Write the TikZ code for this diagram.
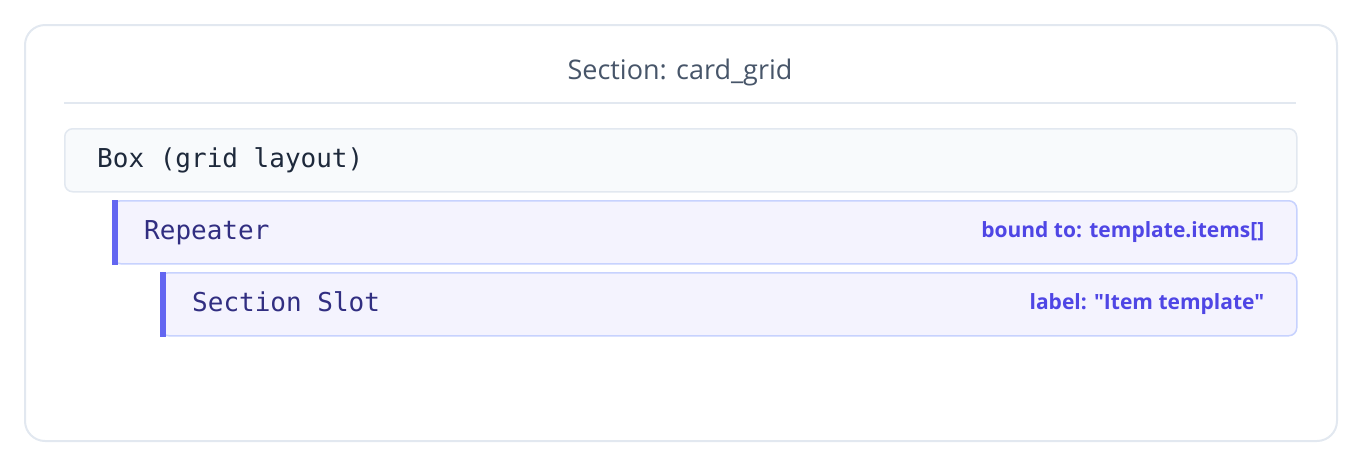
\documentclass[tikz,border=0pt]{standalone}
\usepackage{fontspec}
\setmainfont{Open Sans}
\newfontfamily\monofont{DejaVu Sans Mono}
\newfontfamily\tagfont{Open Sans}
\usetikzlibrary{positioning}
\definecolor{cardline}{HTML}{E2E8F0}
\definecolor{titlegray}{HTML}{475569}
\definecolor{boxfill}{HTML}{F8FAFC}
\definecolor{boxtext}{HTML}{1E293B}
\definecolor{slotfill}{HTML}{F4F3FE}
\definecolor{slotline}{HTML}{C7D2FE}
\definecolor{accent}{HTML}{6366F1}
\definecolor{slottext}{HTML}{312E81}
\definecolor{labeltext}{HTML}{4F46E5}
\tikzstyle{card} = [draw=cardline, fill=white, line width=2pt, rounded corners=20pt, anchor=north west,
    minimum width=1312pt, minimum height=416pt, inner sep=0pt]
\tikzstyle{block} = [draw=cardline, fill=boxfill, line width=1.5pt, rounded corners=8pt, anchor=north west,
    minimum height=63pt, inner sep=0pt]
\tikzstyle{slot} = [block, draw=slotline, fill=slotfill]
\tikzstyle{mono} = [font=\monofont\fontsize{26}{30}\selectfont, inner sep=0pt, text height=19pt, text depth=5pt]
\tikzstyle{tag} = [font=\tagfont\fontsize{21}{25}\selectfont\bfseries, text=labeltext, inner sep=0pt]

\begin{document}
\begin{tikzpicture}[x=1pt, y=-1pt]
% Set-up
	\useasboundingbox (0,0) rectangle (1360,464);
	\node [card] (card) at (24,24) {};
	\node [font=\fontsize{27}{31}\selectfont, text=titlegray] (title) at (680,72) {Section: card\_grid};
	\coordinate (divl) at (64,103);
	\coordinate (divr) at (1296,103);
	\draw [cardline, line width=1.5pt] (divl) -- (divr);
% Box
	\node [block, minimum width=1232pt] (box) at (64,128) {};
	\node [mono, text=boxtext, right=33pt of box.west] (boxtxt) {Box (grid layout)};
% Repeater
	\node [slot, minimum width=1184pt] (rep) at (112,200) {};
	\fill [accent] (rep.north west) rectangle ([xshift=6pt]rep.south west);
	\node [mono, text=slottext, right=32pt of rep.west] (reptxt) {Repeater};
	\node [tag, left=33pt of rep.east] (replabel) {bound to: template.items[]};
% Section Slot
	\node [slot, minimum width=1136pt] (sec) at (160,272) {};
	\fill [accent] (sec.north west) rectangle ([xshift=6pt]sec.south west);
	\node [mono, text=slottext, right=32pt of sec.west] (sectxt) {Section Slot};
	\node [tag, left=33pt of sec.east] (seclabel) {label: "Item template"};
\end{tikzpicture}
\end{document}
